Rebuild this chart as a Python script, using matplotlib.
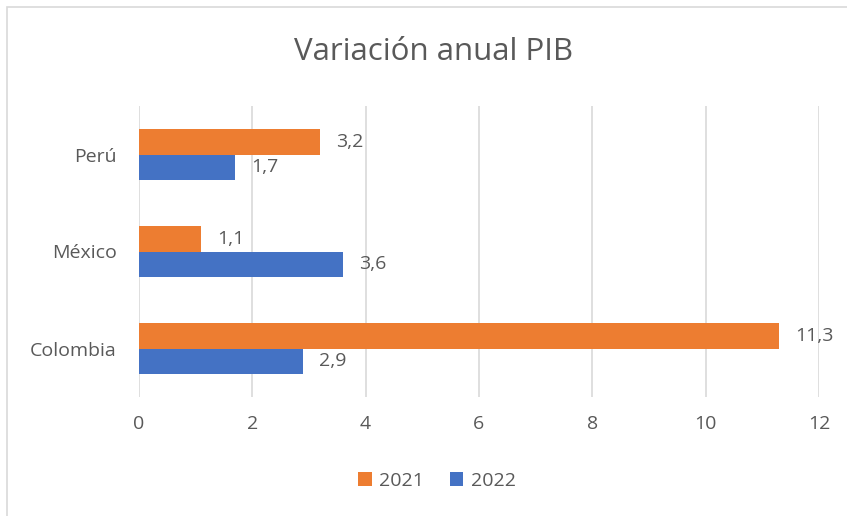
import matplotlib
matplotlib.use("Agg")
import matplotlib.pyplot as plt
import matplotlib.patches as mpatches
import numpy as np

plt.rcParams['font.family'] = ['Open Sans', 'DejaVu Sans']

paises = ["Colombia", "México", "Perú"]
v2021 = [11.3, 1.1, 3.2]
v2022 = [2.9, 3.6, 1.7]
xticks = [0, 2, 4, 6, 8, 10, 12]

c2021 = "#ED7D31"
c2022 = "#4472C4"
txt = "#595959"

fig = plt.figure(figsize=(8.47, 5.16), dpi=100)
ax = fig.add_axes([139/847, 1-397/516, 680/847, 291/516])

# marco del gráfico
fig.patches.append(mpatches.Rectangle((7/847, -0.1), 1.2, 1 - 7/516 + 0.1,
                                      transform=fig.transFigure, fill=False,
                                      edgecolor="#d9d9d9", lw=1.2))

y = np.arange(len(paises))
h = 0.26
b1 = ax.barh(y + h/2, v2021, height=h, color=c2021, label="2021")
b2 = ax.barh(y - h/2, v2022, height=h, color=c2022, label="2022")

for bars in (b1, b2):
    for r in bars:
        w = r.get_width()
        ax.text(w + 0.28, r.get_y() + r.get_height()/2, f"{w:.1f}".replace(".", ","),
                va="center", ha="left", fontsize=14, color=txt)

ax.set_xlim(0, 12)
ax.set_ylim(-0.5, 2.5)
ax.set_xticks(xticks)
ax.set_yticks(y)
ax.set_yticklabels(paises)
ax.tick_params(length=0, labelsize=14, labelcolor=txt)
ax.tick_params(axis="x", pad=13)
ax.tick_params(axis="y", pad=16)
ax.grid(axis="x", color="#d9d9d9", lw=1.2)
ax.set_axisbelow(True)
for s in ax.spines.values():
    s.set_visible(False)

fig.text(434/847, 1-52/516, "Variación anual PIB", ha="center", va="center",
         fontsize=22.5, color=txt)

fig.legend(handles=[b1, b2], loc="center", bbox_to_anchor=(437/847, 1-481/516),
           ncol=2, frameon=False, fontsize=14, labelcolor=txt,
           handlelength=0.7, handleheight=0.7, handletextpad=0.4, columnspacing=1.3)

fig.savefig("out.png", dpi=100)
